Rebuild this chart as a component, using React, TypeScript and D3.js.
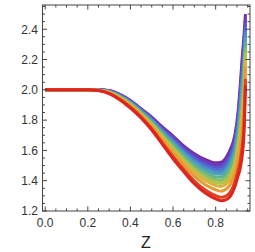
import React from "react";
import * as d3 from "d3";

const zs = [0, 0.2, 0.25, 0.3, 0.35, 0.4, 0.45, 0.5, 0.55, 0.6, 0.65, 0.7, 0.75, 0.8, 0.825, 0.85, 0.87, 0.89, 0.905, 0.915, 0.925, 0.932, 0.94];

// curves ordered purple (drawn first) ... red (drawn last)
const c12 = [2.0, 2.0, 2.0, 1.995, 1.97, 1.93, 1.875, 1.82, 1.755, 1.695, 1.63, 1.578, 1.54, 1.518, 1.522, 1.555, 1.61, 1.7, 1.85, 2.02, 2.22, 2.34, 2.5];
const c11 = [2.0, 2.0, 2.0, 1.994, 1.968, 1.927, 1.871, 1.815, 1.748, 1.686, 1.62, 1.566, 1.527, 1.504, 1.507, 1.538, 1.591, 1.68, 1.825, 1.988, 2.181, 2.3, 2.472];
const c10 = [2.0, 2.0, 1.999, 1.992, 1.965, 1.924, 1.867, 1.809, 1.74, 1.676, 1.608, 1.552, 1.511, 1.487, 1.489, 1.519, 1.57, 1.656, 1.795, 1.95, 2.136, 2.254, 2.439];
const c9 = [2.0, 2.0, 1.999, 1.991, 1.963, 1.921, 1.864, 1.804, 1.733, 1.667, 1.598, 1.54, 1.498, 1.473, 1.474, 1.502, 1.551, 1.635, 1.77, 1.917, 2.097, 2.215, 2.411];
const c8 = [2.0, 2.0, 1.999, 1.99, 1.961, 1.918, 1.86, 1.799, 1.726, 1.658, 1.588, 1.529, 1.485, 1.459, 1.458, 1.485, 1.533, 1.615, 1.745, 1.885, 2.058, 2.175, 2.383];
const c7 = [2.0, 2.0, 1.998, 1.989, 1.959, 1.915, 1.856, 1.794, 1.719, 1.649, 1.577, 1.517, 1.472, 1.444, 1.443, 1.468, 1.514, 1.595, 1.72, 1.853, 2.019, 2.135, 2.354];
const c6 = [2.0, 2.0, 1.998, 1.987, 1.956, 1.911, 1.852, 1.787, 1.71, 1.637, 1.564, 1.501, 1.454, 1.425, 1.423, 1.446, 1.489, 1.567, 1.686, 1.809, 1.967, 2.083, 2.317];
const c5 = [2.0, 2.0, 1.998, 1.986, 1.954, 1.907, 1.847, 1.78, 1.701, 1.625, 1.55, 1.485, 1.437, 1.406, 1.402, 1.423, 1.464, 1.54, 1.653, 1.766, 1.915, 2.03, 2.279];
const c4 = [2.0, 2.0, 1.997, 1.984, 1.951, 1.903, 1.842, 1.773, 1.692, 1.613, 1.537, 1.469, 1.419, 1.387, 1.382, 1.401, 1.44, 1.513, 1.619, 1.723, 1.863, 1.977, 2.242];
const c3 = [2.0, 2.0, 1.997, 1.982, 1.948, 1.899, 1.837, 1.766, 1.683, 1.601, 1.523, 1.453, 1.401, 1.368, 1.361, 1.379, 1.415, 1.486, 1.585, 1.68, 1.811, 1.924, 2.204];
const c2 = [2.0, 2.0, 1.996, 1.98, 1.944, 1.893, 1.83, 1.756, 1.669, 1.583, 1.503, 1.43, 1.375, 1.34, 1.331, 1.345, 1.378, 1.445, 1.535, 1.615, 1.733, 1.845, 2.148];
const c1 = [2.0, 2.0, 1.995, 1.977, 1.938, 1.885, 1.82, 1.743, 1.65, 1.559, 1.475, 1.398, 1.34, 1.301, 1.29, 1.3, 1.328, 1.391, 1.468, 1.529, 1.629, 1.739, 2.072];
const c0 = [2.0, 2.0, 1.995, 1.975, 1.935, 1.88, 1.815, 1.735, 1.64, 1.545, 1.46, 1.38, 1.32, 1.28, 1.268, 1.275, 1.3, 1.36, 1.43, 1.48, 1.57, 1.68, 2.03];

const series = [c12, c11, c10, c9, c8, c7, c6, c5, c4, c3, c2, c1, c0];
const colors = ["#7a2a9e", "#6a3cbe", "#5a56cc", "#4f70d0", "#4b8bcb", "#4fa2b8", "#5fb292", "#86bd66", "#b3c24e", "#dcb23d", "#e69a33", "#e2401f", "#df2420"];

const xTicks = [0, 0.2, 0.4, 0.6, 0.8];
const yTicks = [1.2, 1.4, 1.6, 1.8, 2.0, 2.2, 2.4];
const xLabel = "Z";

export default function App() {
  const W = 255, H = 252;
  const L = 42.5, R = 250, T = 5, B = 211;
  const x = d3.scaleLinear().domain([-0.0127, 0.9612]).range([L, R]);
  const y = d3.scaleLinear().domain([1.2, 2.56]).range([B, T]);
  const line = d3.line<number>().x((_, i) => x(zs[i])).y((d) => y(d)).curve(d3.curveMonotoneX);
  const xMinor = d3.range(0, 0.96, 0.05);
  const yMinor = d3.range(1.2, 2.56, 0.05);
  const frame = "#444";
  return (
    <svg width={W} height={H} style={{ position: "absolute", left: 0, top: 0, background: "#fff" }}>
      <defs>
        <clipPath id="clip">
          <rect x={L} y={T} width={R - L} height={B - T} />
        </clipPath>
      </defs>
      <g clipPath="url(#clip)">
        {series.map((s, k) => (
          <path key={k} d={line(s) || ""} fill="none" stroke={colors[k]} strokeWidth={3} strokeLinejoin="round" />
        ))}
      </g>
      <rect x={L} y={T} width={R - L} height={B - T} fill="none" stroke={frame} strokeWidth={1} />
      {xMinor.map((v, i) => {
        const major = Math.abs(v / 0.2 - Math.round(v / 0.2)) < 1e-6;
        const len = major ? 4.5 : 2.5;
        return (
          <g key={"xm" + i}>
            <line x1={x(v)} x2={x(v)} y1={B} y2={B - len} stroke={frame} strokeWidth={1} />
            <line x1={x(v)} x2={x(v)} y1={T} y2={T + len} stroke={frame} strokeWidth={1} />
          </g>
        );
      })}
      {yMinor.map((v, i) => {
        const major = Math.abs((v - 1.2) / 0.2 - Math.round((v - 1.2) / 0.2)) < 1e-6;
        const len = major ? 4.5 : 2.5;
        return (
          <g key={"ym" + i}>
            <line x1={L} x2={L + len} y1={y(v)} y2={y(v)} stroke={frame} strokeWidth={1} />
            <line x1={R} x2={R - len} y1={y(v)} y2={y(v)} stroke={frame} strokeWidth={1} />
          </g>
        );
      })}
      {xTicks.map((v) => (
        <text key={"xt" + v} x={x(v)} y={227} textAnchor="middle" fontFamily="Liberation Sans, Arial, sans-serif" fontSize={12} fill="#333">
          {v.toFixed(1)}
        </text>
      ))}
      {yTicks.map((v) => (
        <text key={"yt" + v} x={38} y={y(v) + 4.3} textAnchor="end" fontFamily="Liberation Sans, Arial, sans-serif" fontSize={12} fill="#333">
          {v.toFixed(1)}
        </text>
      ))}
      <text x={146} y={248} textAnchor="middle" fontFamily="Liberation Sans, Arial, sans-serif" fontSize={16} fill="#222">
        {xLabel}
      </text>
    </svg>
  );
}
